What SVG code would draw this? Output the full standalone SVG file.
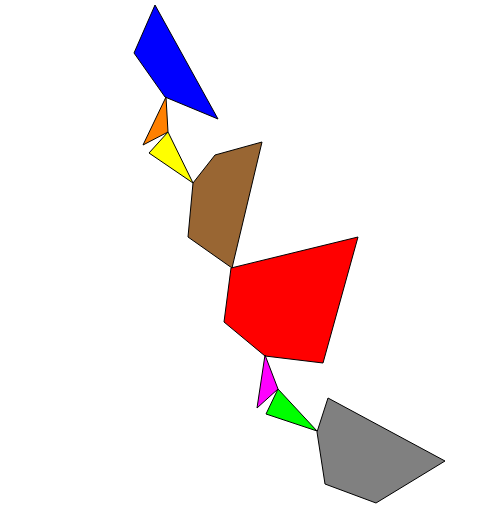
<svg xmlns="http://www.w3.org/2000/svg" width="500" height="526" viewBox="0 0 500 526">
<style>
polygon { stroke: #000; stroke-width: 1; stroke-linejoin: round; }
</style>
<rect width="500" height="526" fill="#fff"/>
<polygon id="blue" points="155,5 134,53 165,97 218,119" fill="#0000ff"/>
<polygon id="orange" points="166,97 143,145 168,132" fill="#ff8000"/>
<polygon id="yellow" points="168,132 149,153 193,183" fill="#ffff00"/>
<polygon id="brown" points="193,183 215,155 262,142 232,268 188,237" fill="#996633"/>
<polygon id="red" points="231,268 358,237 323,363 265,356 224,322" fill="#ff0000"/>
<polygon id="magenta" points="265,355 278,389 257,408" fill="#ff00ff"/>
<polygon id="green" points="278,389 266,414 317,431" fill="#00ff00"/>
<polygon id="gray" points="317,432 328,398 445,461 376,503 325,484" fill="#808080"/>
</svg>
